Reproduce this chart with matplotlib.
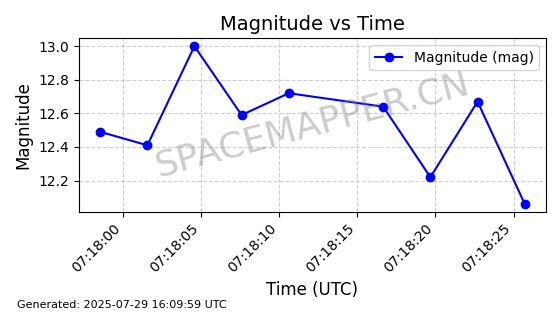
import pandas as pd
import numpy as np
import matplotlib
matplotlib.use('Agg')
import matplotlib.pyplot as plt
import matplotlib.dates as mdates

times = ['2025-07-29 07:17:58.55', '2025-07-29 07:18:01.57', '2025-07-29 07:18:04.58',
         '2025-07-29 07:18:07.60', '2025-07-29 07:18:10.62', '2025-07-29 07:18:16.66',
         '2025-07-29 07:18:19.68', '2025-07-29 07:18:22.70', '2025-07-29 07:18:25.72']
mag = [12.49, 12.41, 13.00, 12.59, 12.72, 12.64, 12.22, 12.67, 12.06]
t = pd.to_datetime(times)

fig, ax = plt.subplots(figsize=(5.6, 3.14), dpi=100)
ax.plot(t, mag, 'o-', color='blue', label='Magnitude (mag)')
ax.set_title('Magnitude vs Time', fontsize=14)
ax.set_xlabel('Time (UTC)', fontsize=12)
ax.set_ylabel('Magnitude', fontsize=12)
ax.grid(True, linestyle='--', alpha=0.6)
ax.legend(loc='upper right')
ax.xaxis.set_major_formatter(mdates.DateFormatter('%H:%M:%S'))
plt.setp(ax.get_xticklabels(), rotation=45, ha='right')
ax.text(0.5, 0.5, 'SPACEMAPPER.CN', transform=ax.transAxes, fontsize=26,
        color='gray', alpha=0.4, ha='center', va='center', rotation=15)
fig.text(0.03, 0.02, 'Generated: 2025-07-29 16:09:59 UTC', fontsize=8)
plt.subplots_adjust(left=0.141, right=0.975, top=0.878, bottom=0.325)
plt.savefig('out.png', dpi=100)
